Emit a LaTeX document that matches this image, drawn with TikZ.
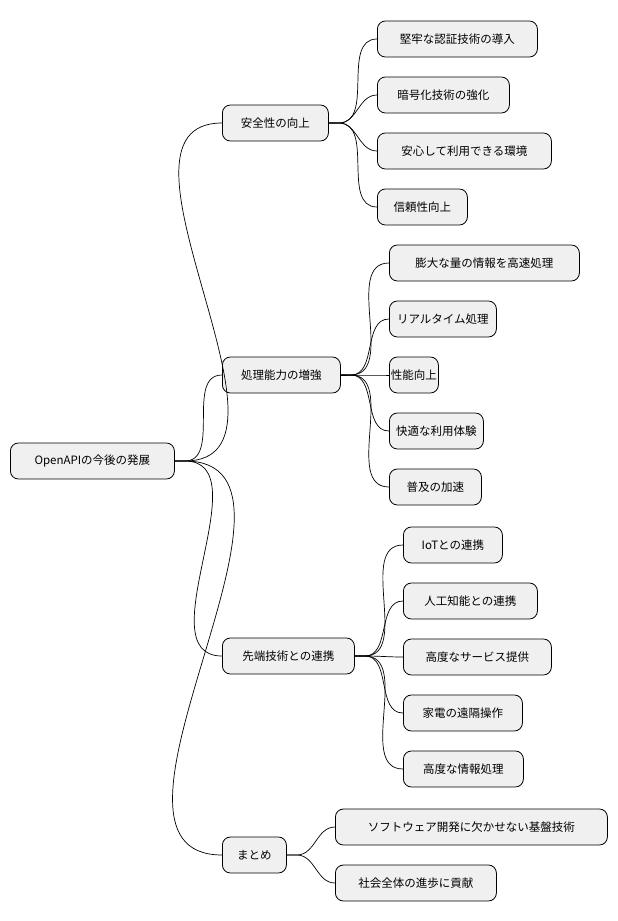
\documentclass[tikz,border=0pt]{standalone}
\usepackage{fontspec}
\setmainfont{Noto Sans CJK JP}
\begin{document}
\begin{tikzpicture}[x=1pt,y=-1pt,
  mm/.style={draw=black,fill=black!6,rounded corners=8pt,line width=0.8pt,minimum height=36pt,inner xsep=0pt,anchor=west,font=\fontsize{11.5}{13}\selectfont},
  ln/.style={line width=0.7pt}]
\useasboundingbox (0,0) rectangle (618,921);
\newcommand{\mnode}[5]{\node[mm,minimum width=#4] (#1) at (#2,#3) {#5};}
\mnode{r}{10}{461}{164pt}{OpenAPIの今後の発展}
\mnode{a}{222}{123}{106pt}{安全性の向上}
\mnode{b}{222}{375}{118pt}{処理能力の増強}
\mnode{c}{222}{656}{132pt}{先端技術との連携}
\mnode{d}{222}{855}{64pt}{まとめ}
\mnode{a1}{377}{39}{160pt}{堅牢な認証技術の導入}
\mnode{a2}{377}{95}{132pt}{暗号化技術の強化}
\mnode{a3}{377}{151}{174pt}{安心して利用できる環境}
\mnode{a4}{377}{207}{90pt}{信頼性向上}
\mnode{b1}{389}{263}{190pt}{膨大な量の情報を高速処理}
\mnode{b2}{389}{319}{107pt}{リアルタイム処理}
\mnode{b3}{389}{375}{49pt}{性能向上}
\mnode{b4}{389}{431}{94pt}{快適な利用体験}
\mnode{b5}{389}{487}{92pt}{普及の加速}
\mnode{c1}{403}{545}{99pt}{IoTとの連携}
\mnode{c2}{403}{601}{134pt}{人工知能との連携}
\mnode{c3}{403}{657}{148pt}{高度なサービス提供}
\mnode{c4}{403}{713}{119pt}{家電の遠隔操作}
\mnode{c5}{403}{769}{120pt}{高度な情報処理}
\mnode{d1}{335}{827}{272pt}{ソフトウェア開発に欠かせない基盤技術}
\mnode{d2}{335}{883}{161pt}{社会全体の進歩に貢献}
\foreach \p/\k in {r/a,r/b,r/c,r/d,a/a1,a/a2,a/a3,a/a4,b/b1,b/b2,b/b3,b/b4,b/b5,c/c1,c/c2,c/c3,c/c4,c/c5,d/d1,d/d2}
  \draw[ln] (\p.east) -- ++(10,0) to[out=0,in=180] (\k.west);
\end{tikzpicture}
\end{document}
